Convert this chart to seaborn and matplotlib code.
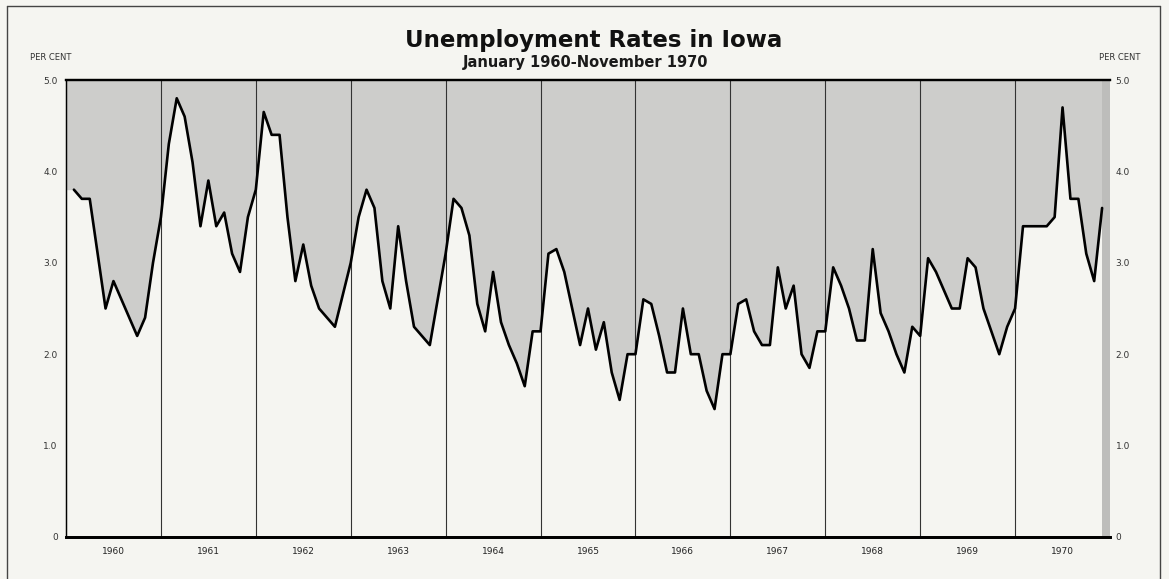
import numpy as np
import pandas as pd
import seaborn as sns
import matplotlib.pyplot as plt
from matplotlib.lines import Line2D

# =====================================
# DATA (monthly rates, per cent)
# =====================================

years = [1960, 1961, 1962, 1963, 1964, 1965, 1966, 1967, 1968, 1969, 1970]

rates_1960 = [3.8, 3.7, 3.7, 3.1, 2.5, 2.8, 2.6, 2.4, 2.2, 2.4, 3.0, 3.5]
rates_1961 = [4.3, 4.8, 4.6, 4.1, 3.4, 3.9, 3.4, 3.55, 3.1, 2.9, 3.5, 3.8]
rates_1962 = [4.65, 4.4, 4.4, 3.5, 2.8, 3.2, 2.75, 2.5, 2.4, 2.3, 2.65, 3.0]
rates_1963 = [3.5, 3.8, 3.6, 2.8, 2.5, 3.4, 2.8, 2.3, 2.2, 2.1, 2.6, 3.1]
rates_1964 = [3.7, 3.6, 3.3, 2.55, 2.25, 2.9, 2.35, 2.1, 1.9, 1.65, 2.25, 2.25]
rates_1965 = [3.1, 3.15, 2.9, 2.5, 2.1, 2.5, 2.05, 2.35, 1.8, 1.5, 2.0, 2.0]
rates_1966 = [2.6, 2.55, 2.2, 1.8, 1.8, 2.5, 2.0, 2.0, 1.6, 1.4, 2.0, 2.0]
rates_1967 = [2.55, 2.6, 2.25, 2.1, 2.1, 2.95, 2.5, 2.75, 2.0, 1.85, 2.25, 2.25]
rates_1968 = [2.95, 2.75, 2.5, 2.15, 2.15, 3.15, 2.45, 2.25, 2.0, 1.8, 2.3, 2.2]
rates_1969 = [3.05, 2.9, 2.7, 2.5, 2.5, 3.05, 2.95, 2.5, 2.25, 2.0, 2.3, 2.5]
rates_1970 = [3.4, 3.4, 3.4, 3.4, 3.5, 4.7, 3.7, 3.7, 3.1, 2.8, 3.6]

y_ticks = [0, 1, 2, 3, 4, 5]
y_tick_labels = ["0", "1.0", "2.0", "3.0", "4.0", "5.0"]

# =====================================
# BUILD TABLE
# =====================================

rates = (rates_1960 + rates_1961 + rates_1962 + rates_1963 + rates_1964
         + rates_1965 + rates_1966 + rates_1967 + rates_1968 + rates_1969
         + rates_1970)

df = pd.DataFrame({
    "month": np.arange(1, len(rates) + 1),
    "rate": rates
})

# =====================================
# STYLE
# =====================================

paper = "#f5f5f1"
shade = "#cdcdcb"

sns.set_style("white")
plt.rcParams["font.family"] = ["DejaVu Sans"]

fig = plt.figure(figsize=(11.69, 5.79), dpi=100, facecolor=paper)
ax = fig.add_axes([66 / 1169, 1 - 537 / 579, 1044 / 1169, 457 / 579])
ax.set_facecolor(paper)

n_months = 12 * len(years)

# gray area above the line
fill_x = np.concatenate([[0], df["month"].values])
fill_y = np.concatenate([[df["rate"].iloc[0]], df["rate"].values])
ax.fill_between(fill_x, fill_y, 5, color=shade, linewidth=0, zorder=1)
ax.axvspan(df["month"].iloc[-1], n_months, color="#bdbdbb", linewidth=0, zorder=1)

# year dividers
for i in range(1, len(years)):
    ax.axvline(12 * i, color="#333333", linewidth=0.8, zorder=2)

sns.lineplot(data=df, x="month", y="rate", color="black",
             linewidth=1.9, ax=ax, zorder=3)

ax.set_xlim(0, n_months)
ax.set_ylim(0, 5)

# =====================================
# AXES / TICKS
# =====================================

ax.set_xticks([12 * i + 6 for i in range(len(years))])
ax.set_xticklabels([str(y) for y in years])
ax.set_yticks(y_ticks)
ax.set_yticklabels(y_tick_labels)
ax.tick_params(axis="x", length=0, pad=7, labelsize=6.5, labelcolor="#222222")
ax.tick_params(axis="y", length=0, pad=6, labelsize=6.5, labelcolor="#333333")
ax.set_xlabel("")
ax.set_ylabel("")

# right-hand scale
ax_r = ax.twinx()
ax_r.set_ylim(0, 5)
ax_r.set_yticks(y_ticks)
ax_r.set_yticklabels(y_tick_labels)
ax_r.tick_params(axis="y", length=0, pad=4, labelsize=6.5, labelcolor="#333333")
ax_r.grid(False)

for a in [ax, ax_r]:
    for side in ["top", "bottom", "left", "right"]:
        a.spines[side].set_color("black")
    a.spines["top"].set_linewidth(1.6)
    a.spines["bottom"].set_linewidth(2.0)
    a.spines["left"].set_linewidth(0.9)
    a.spines["right"].set_visible(False)

# =====================================
# TEXT
# =====================================

fig.text(0.508, 1 - 40 / 579, "Unemployment Rates in Iowa",
         ha="center", va="center", fontsize=16.5, fontweight="bold",
         color="#111111")
fig.text(0.501, 1 - 62 / 579, "January 1960-November 1970",
         ha="center", va="center", fontsize=10.5, fontweight="bold",
         color="#1a1a1a")

fig.text(30 / 1169, 1 - 58 / 579, "PER CENT", ha="left", va="center",
         fontsize=6, color="#333333")
fig.text(1140 / 1169, 1 - 58 / 579, "PER CENT", ha="right", va="center",
         fontsize=6, color="#333333")

# page frame
frame_kw = dict(color="#444444", linewidth=1.0, transform=fig.transFigure)
fig.add_artist(Line2D([7 / 1169, 1160 / 1169], [1 - 6 / 579, 1 - 6 / 579], **frame_kw))
fig.add_artist(Line2D([7 / 1169, 7 / 1169], [0, 1 - 6 / 579], **frame_kw))
fig.add_artist(Line2D([1160 / 1169, 1160 / 1169], [0, 1 - 6 / 579], **frame_kw))

plt.savefig("out.png", dpi=100, facecolor=paper)
